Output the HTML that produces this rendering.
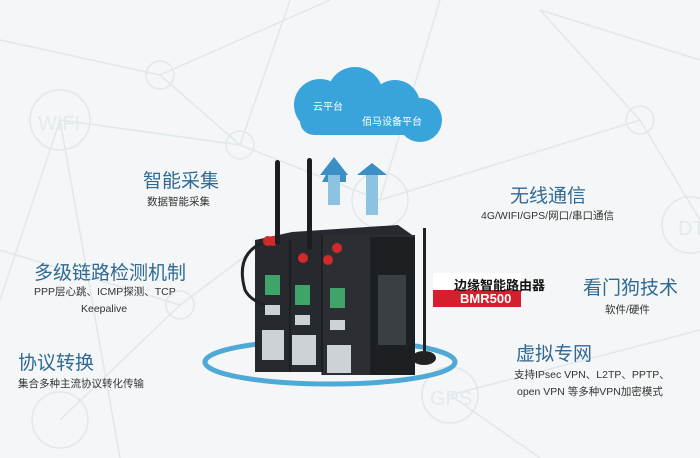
<!DOCTYPE html>
<html><head><meta charset="utf-8"><style>
body{margin:0;width:700px;height:458px;overflow:hidden;background:#f4f6f7;font-family:"Liberation Sans","Noto Sans CJK SC",sans-serif}
svg{position:absolute;left:0;top:0}
.t{position:absolute;color:#2f6a93;font-size:19px;white-space:nowrap}
.s{position:absolute;color:#333;font-size:10.5px;white-space:nowrap}
</style></head><body>
<svg width="700" height="458">
<g stroke="#e0e8ec" stroke-width="1.5" fill="none">
<line x1="0" y1="40" x2="160" y2="75"/><line x1="160" y1="75" x2="240" y2="145"/><line x1="160" y1="75" x2="330" y2="0"/>
<line x1="60" y1="120" x2="240" y2="145"/><line x1="240" y1="145" x2="380" y2="200"/><line x1="240" y1="145" x2="290" y2="0"/>
<line x1="380" y1="200" x2="640" y2="120"/><line x1="380" y1="200" x2="440" y2="0"/><line x1="640" y1="120" x2="700" y2="220"/>
<line x1="180" y1="305" x2="0" y2="250"/><line x1="180" y1="305" x2="260" y2="245"/><line x1="60" y1="120" x2="0" y2="300"/>
<line x1="450" y1="395" x2="700" y2="330"/><line x1="450" y1="395" x2="540" y2="458"/><line x1="60" y1="420" x2="180" y2="305"/>
<line x1="540" y1="10" x2="640" y2="120"/><line x1="540" y1="10" x2="700" y2="60"/><line x1="60" y1="120" x2="120" y2="458"/>
<circle cx="160" cy="75" r="14"/><circle cx="60" cy="120" r="30"/><circle cx="240" cy="145" r="14"/><circle cx="380" cy="200" r="28"/>
<circle cx="640" cy="120" r="14"/><circle cx="690" cy="225" r="28"/><circle cx="180" cy="305" r="14"/><circle cx="450" cy="395" r="28"/><circle cx="60" cy="420" r="28"/>
</g>
<g fill="#e3eaee" font-size="20"><text x="38" y="130">WIFI</text><text x="430" y="405">GPS</text><text x="678" y="235">DT</text></g>
<ellipse cx="330" cy="362" rx="125" ry="22" fill="none" stroke="#4ea9d6" stroke-width="5"/>
<g fill="#39a3db"><circle cx="320" cy="105" r="26"/><circle cx="355" cy="95" r="28"/><circle cx="395" cy="105" r="25"/><circle cx="420" cy="120" r="22"/><rect x="300" y="105" width="140" height="30" rx="14"/></g>
<g fill="#3c8fc4"><polygon points="322,182 346,182 346,175 334,160"/><polygon points="320,175 348,175 334,157"/><rect x="328" y="175" width="12" height="30" fill="#8cc3e2"/>
<polygon points="357,175 387,175 372,163"/><rect x="366" y="175" width="12" height="40" fill="#8cc3e2"/></g>
<polygon points="255,240 292,232 398,225 415,237 415,372 255,372" fill="#262a2e"/>
<rect x="322" y="235" width="93" height="140" fill="#2b2f33"/><rect x="370" y="237" width="45" height="138" fill="#1d2023"/>
<line x1="290" y1="240" x2="290" y2="372" stroke="#111"/><line x1="322" y1="235" x2="322" y2="375" stroke="#111"/>
<rect x="378" y="275" width="28" height="70" fill="#3a3f44"/>
<g fill="#3ea46a"><rect x="265" y="275" width="15" height="20"/><rect x="295" y="285" width="15" height="20"/><rect x="330" y="288" width="15" height="20"/></g>
<g fill="#cdd2d6"><rect x="265" y="305" width="15" height="10"/><rect x="262" y="330" width="22" height="30"/><rect x="295" y="315" width="15" height="10"/><rect x="292" y="335" width="24" height="30"/><rect x="330" y="320" width="15" height="10"/><rect x="327" y="345" width="24" height="28"/></g>
<g fill="#d22a2a"><circle cx="268" cy="241" r="5"/><circle cx="273" cy="241" r="5"/><circle cx="303" cy="258" r="5"/><circle cx="337" cy="248" r="5"/><circle cx="328" cy="260" r="5"/></g>
<rect x="275" y="160" width="5" height="85" rx="2.5" fill="#1b1e21"/><rect x="307" y="158" width="5" height="92" rx="2.5" fill="#1b1e21"/>
<rect x="423" y="228" width="3" height="125" fill="#222"/><ellipse cx="424" cy="358" rx="12" ry="7" fill="#222"/>
<path d="M262 243 Q235 255 245 290 Q250 300 265 305" stroke="#222" stroke-width="3" fill="none"/>
<rect x="433" y="273" width="88" height="17" fill="#fff"/>
<rect x="433" y="290" width="88" height="17" fill="#d61f2e"/>
</svg>
<div class="s" style="left:313px;top:98px;color:#fff;font-size:10px">云平台</div>
<div class="s" style="left:362px;top:113px;color:#fff;font-size:10px">佰马设备平台</div>
<div class="t" style="left:143px;top:166px">智能采集</div>
<div class="s" style="left:147px;top:194px">数据智能采集</div>
<div class="t" style="left:34px;top:258px">多级链路检测机制</div>
<div class="s" style="left:34px;top:284px">PPP层心跳、ICMP探测、TCP</div>
<div class="s" style="left:81px;top:303px">Keepalive</div>
<div class="t" style="left:18px;top:348px">协议转换</div>
<div class="s" style="left:18px;top:376px">集合多种主流协议转化传输</div>
<div class="t" style="left:510px;top:181px">无线通信</div>
<div class="s" style="left:481px;top:208px">4G/WIFI/GPS/网口/串口通信</div>
<div class="s" style="left:454px;top:275px;color:#111;font-size:13px;font-weight:bold">边缘智能路由器</div>
<div class="s" style="left:460px;top:291px;color:#fff;font-size:13px;font-weight:bold">BMR500</div>
<div class="t" style="left:583px;top:273px">看门狗技术</div>
<div class="s" style="left:605px;top:302px">软件/硬件</div>
<div class="t" style="left:516px;top:339px">虚拟专网</div>
<div class="s" style="left:514px;top:367px">支持IPsec VPN、L2TP、PPTP、</div>
<div class="s" style="left:517px;top:384px">open VPN 等多种VPN加密模式</div>
</body></html>
